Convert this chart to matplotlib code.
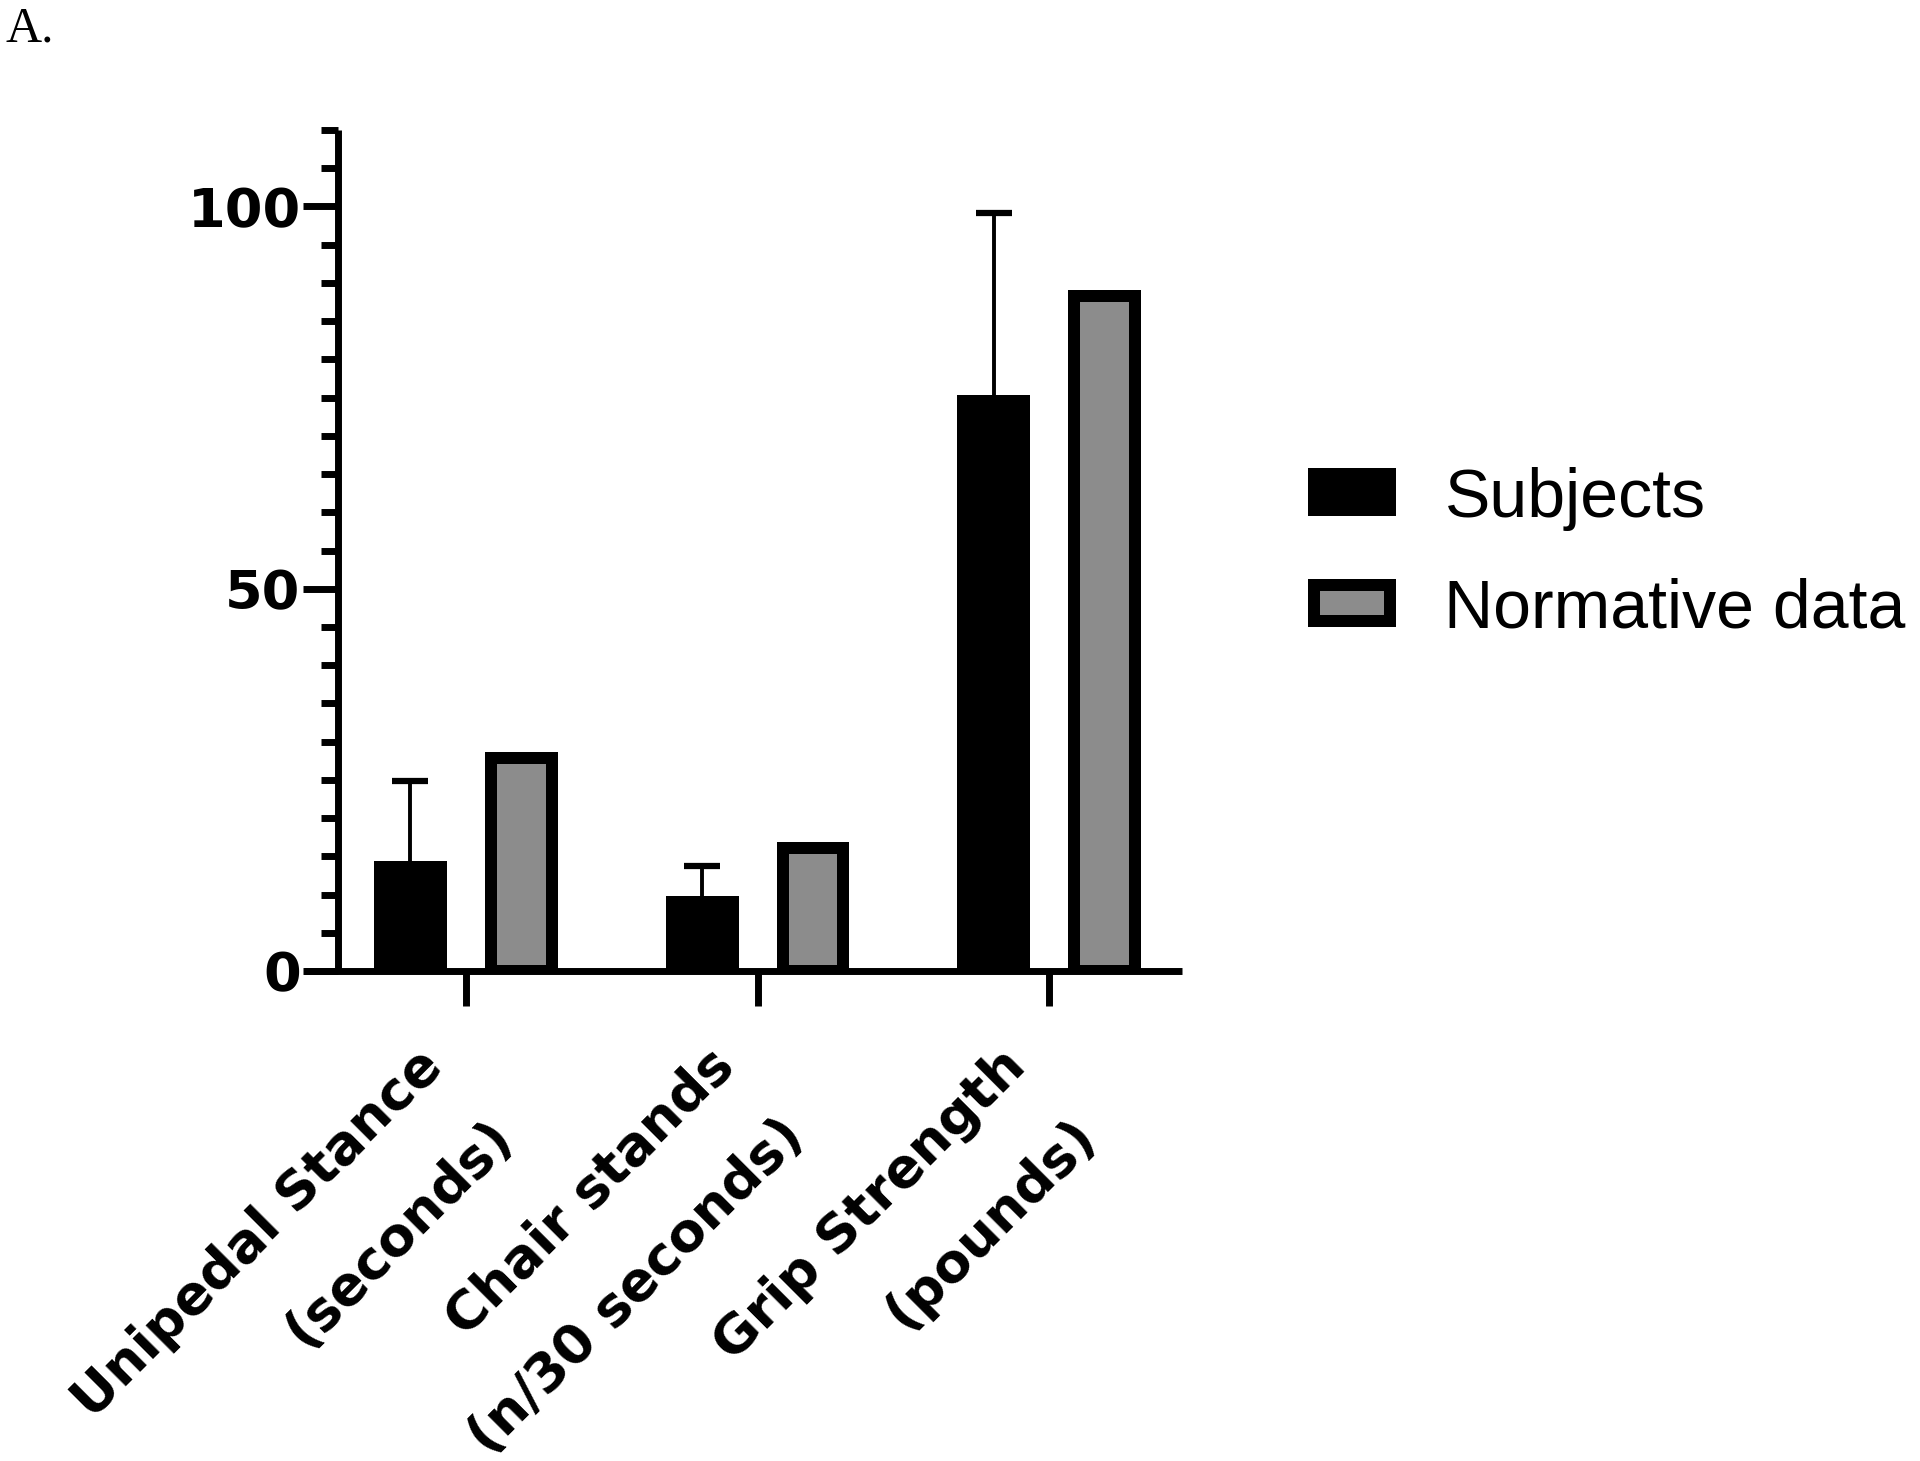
import numpy as np
import matplotlib
matplotlib.use("Agg")
import matplotlib.pyplot as plt
from matplotlib.patches import Patch
from matplotlib.ticker import MultipleLocator, FixedLocator
from matplotlib.transforms import ScaledTranslation

# ---- data ----
categories = ["Unipedal Stance\n(seconds)", "Chair stands\n(n/30 seconds)", "Grip Strength\n(pounds)"]
subjects = [14.4, 9.8, 75.4]
subjects_sd = [10.5, 3.9, 23.7]
normative = [27.8, 16.1, 88.3]
series_labels = ["Subjects", "Normative data"]
y_major_ticks = [0, 50, 100]

W, H = 1920, 1461
DPI = 100
fig = plt.figure(figsize=(W / DPI, H / DPI), dpi=DPI)

# axes box in pixels (from top-left)
px_left, px_right, px_top, px_bottom = 304, 1182, 130, 971
ax = fig.add_axes([px_left / W, 1 - px_bottom / H,
                   (px_right - px_left) / W, (px_bottom - px_top) / H])

x = np.arange(len(categories))
offset = 0.19
outer_w = 0.25
edge_px = 12
px_per_unit = (px_right - px_left) / 3.01
edge_pt = edge_px * 72 / DPI
inner_w = outer_w - edge_px / px_per_unit
grey = "#8c8c8c"

ax.bar(x - offset, subjects, width=outer_w, color="black", linewidth=0, zorder=3)
ax.bar(x + offset, normative, width=inner_w, color=grey, edgecolor="black",
       linewidth=edge_pt, zorder=3)

eb = ax.errorbar(x - offset, subjects, yerr=[np.zeros(len(subjects)), subjects_sd],
                 fmt="none", ecolor="black", elinewidth=2.8, capsize=13, capthick=4.5,
                 zorder=2)
eb[1][0].set_visible(False)

ax.set_xlim(-0.555, 2.455)
ax.set_ylim(0, 110)

lw_axis = 5.0
for s in ["top", "right"]:
    ax.spines[s].set_visible(False)
ax.spines["left"].set_position(("data", -0.438))
ax.spines["left"].set_linewidth(lw_axis)
ax.spines["bottom"].set_linewidth(lw_axis)
ax.spines["left"].set_capstyle("butt")
ax.spines["bottom"].set_capstyle("butt")

ax.yaxis.set_major_locator(FixedLocator(y_major_ticks))
ax.yaxis.set_minor_locator(MultipleLocator(5))
ax.tick_params(axis="y", which="major", length=25, width=lw_axis, pad=2,
               labelsize=39)
ax.tick_params(axis="y", which="minor", length=12.5, width=lw_axis)
for lab in ax.get_yticklabels():
    lab.set_fontweight("bold")
    lab.set_family("DejaVu Sans")

ax.set_xticks(x)
ax.tick_params(axis="x", which="major", length=25.5, width=lw_axis, pad=60)
ax.set_xticklabels(categories, rotation=45, ha="right", va="center",
                   rotation_mode="anchor", multialignment="right",
                   linespacing=2.15, fontsize=39, fontweight="bold",
                   family="DejaVu Sans")
for lab in ax.get_xticklabels():
    lab.set_transform(lab.get_transform() +
                      ScaledTranslation(0.03, -0.03, fig.dpi_scale_trans))

handles = [Patch(facecolor="black", edgecolor="black", linewidth=edge_pt),
           Patch(facecolor=grey, edgecolor="black", linewidth=edge_pt)]
fs = 49
fs_px = fs * DPI / 72
fig.legend(handles, series_labels, loc="center left",
           bbox_to_anchor=(1314 / W, 1 - 554 / H), frameon=False,
           prop={"family": "Liberation Sans", "size": fs},
           handlelength=76 / fs_px, handleheight=29 / fs_px,
           handletextpad=0.8, labelspacing=0.69, borderpad=0, borderaxespad=0)

fig.text(6 / W, 1 - 42 / H, "A.", family="Liberation Serif", fontsize=36,
         va="baseline", ha="left")

fig.savefig("out.png", dpi=DPI, facecolor="white")
